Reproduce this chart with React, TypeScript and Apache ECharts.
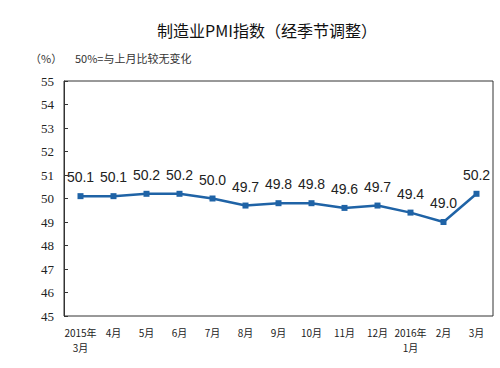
import React, { useEffect, useRef } from "react";
import * as echarts from "echarts";

const categories = ["2015年\n3月", "4月", "5月", "6月", "7月", "8月", "9月", "10月", "11月", "12月", "2016年\n1月", "2月", "3月"];
const pmiValues = [50.1, 50.1, 50.2, 50.2, 50.0, 49.7, 49.8, 49.8, 49.6, 49.7, 49.4, 49.0, 50.2];
const yTicks = [45, 46, 47, 48, 49, 50, 51, 52, 53, 54, 55];
const titleText = "制造业PMI指数（经季节调整）";
const unitText = "（%）";
const noteText = "50%=与上月比较无变化";

export default function App() {
  const ref = useRef<HTMLDivElement>(null);
  useEffect(() => {
    document.body.style.margin = "0";
    const chart = echarts.init(ref.current!, null, { renderer: "svg" });
    const lineColor = "#1f63a6";
    chart.setOption({
      animation: false,
      backgroundColor: "#ffffff",
      title: {
        text: titleText,
        left: 262,
        textAlign: "center",
        top: 17,
        textStyle: { fontSize: 16, fontWeight: "normal", color: "#111", fontFamily: "Noto Sans CJK SC" },
      },
      graphic: [
        { type: "text", left: 30, top: 52, style: { text: unitText, fontSize: 11, fill: "#333", fontFamily: "Noto Sans CJK SC" } },
        { type: "text", left: 75, top: 52, style: { text: noteText, fontSize: 11, fill: "#333", fontFamily: "Noto Sans CJK SC" } },
      ],
      grid: { left: 64, top: 81, right: 7, bottom: 52, show: true, borderColor: "#333", borderWidth: 1, backgroundColor: "transparent" },
      xAxis: [
        {
          type: "category",
          data: categories,
          boundaryGap: true,
          axisLine: { show: false },
          axisTick: { show: false },
          axisLabel: { interval: 0, margin: 9, fontSize: 10, color: "#222", fontFamily: "Noto Sans CJK SC", lineHeight: 15 },
        },
        {
          type: "category",
          data: categories,
          position: "bottom",
          offset: 117.5,
          boundaryGap: true,
          axisLine: { show: true, lineStyle: { color: "#333", width: 1 } },
          axisTick: { show: true, inside: true, length: 4, lineStyle: { color: "#333" }, alignWithLabel: false, interval: 0 },
          axisLabel: { show: false },
        },
      ],
      yAxis: {
        type: "value",
        min: yTicks[0],
        max: yTicks[yTicks.length - 1],
        interval: 1,
        axisLine: { show: true, lineStyle: { color: "#333" } },
        axisTick: { show: true, inside: true, length: 4, lineStyle: { color: "#333" } },
        splitLine: { show: false },
        axisLabel: { margin: 10, fontSize: 13, color: "#222", fontFamily: "Liberation Serif" },
      },
      series: [
        {
          type: "line",
          xAxisIndex: 0,
          data: pmiValues,
          symbol: "rect",
          symbolSize: 6,
          lineStyle: { color: lineColor, width: 2.5 },
          itemStyle: { color: lineColor },
          label: {
            show: true,
            position: "top",
            distance: 9,
            fontSize: 14,
            color: "#222",
            fontFamily: "Liberation Sans",
            formatter: (p: any) => Number(p.value).toFixed(1),
          },
        },
      ],
    });
    return () => chart.dispose();
  }, []);
  return <div ref={ref} style={{ width: 500, height: 368 }} />;
}
